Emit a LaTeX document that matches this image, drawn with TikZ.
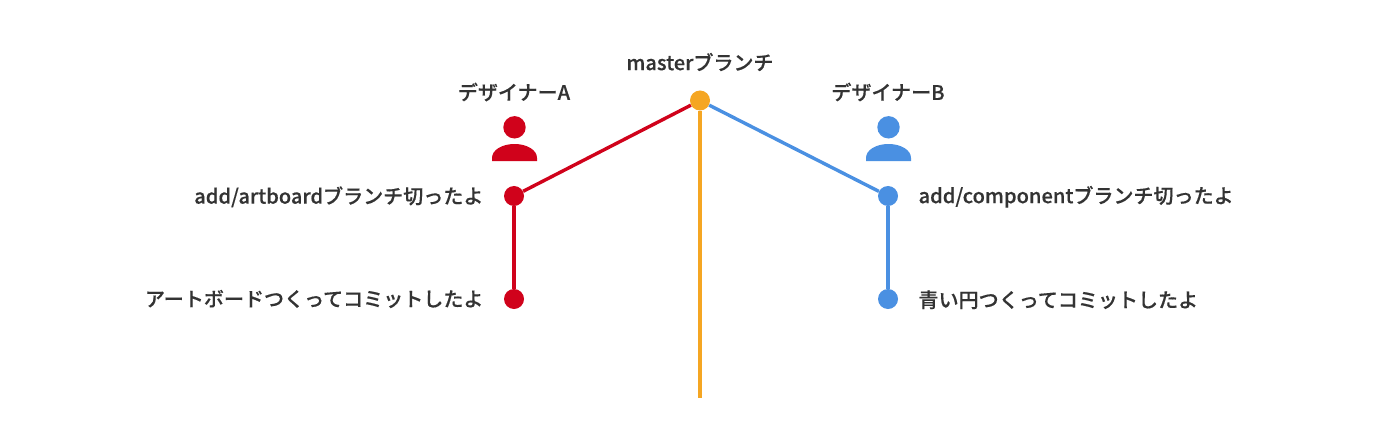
\documentclass[tikz,border=0pt]{standalone}
\usepackage{fontspec}
\setmainfont[BoldFont={Noto Sans CJK JP Medium}, BoldFeatures={FakeBold=0.35}]{Noto Sans CJK JP}
\usetikzlibrary{positioning, calc}
\definecolor{masterline}{RGB}{245,166,35}
\definecolor{redline}{RGB}{208,2,27}
\definecolor{blueline}{RGB}{74,144,226}
\definecolor{labeltext}{RGB}{51,51,51}
\newcommand{\latin}[1]{{\fontsize{14.3}{16}\selectfont #1}}
\tikzset{
    commit/.style={circle, minimum size=0.5cm, inner sep=0pt, fill=#1},
    branch/.style={draw=#1, line width=0.085cm},
    label/.style={inner sep=0pt, text=labeltext, font=\fontsize{14.25}{16}\selectfont\bfseries},
    head/.style={circle, minimum size=0.56cm, inner sep=0pt, fill=#1},
    body/.style={fill=#1}
}
\begin{document}
\begin{tikzpicture}[x=0.025cm, y=-0.025cm]
\useasboundingbox (0,0) rectangle (1400,440);

% Commits
\node[commit=masterline] (master) at (700,100.5) {};
\coordinate (masterend) at (700,398);
\node[commit=redline] (redcut) at (514,196) {};
\node[commit=redline] (redcommit) at (514,299) {};
\node[commit=blueline] (bluecut) at (888,196) {};
\node[commit=blueline] (bluecommit) at (888,299) {};

% Branches
\draw[branch=masterline] (master) -- (masterend);
\draw[branch=redline] (master) -- (redcut);
\draw[branch=redline] (redcut) -- (redcommit);
\draw[branch=blueline] (master) -- (bluecut);
\draw[branch=blueline] (bluecut) -- (bluecommit);

% Designers
\node[head=redline] (redhead) at (514.5,127.3) {};
\fill[body=redline] (492,161) -- (492,158) .. controls (492,150) and (502,144) .. (514.5,144) .. controls (527,144) and (537,150) .. (537,158) -- (537,161) -- cycle;
\node[head=blueline] (bluehead) at (888.5,127.3) {};
\fill[body=blueline] (866,161) -- (866,158) .. controls (866,150) and (876,144) .. (888.5,144) .. controls (901,144) and (911,150) .. (911,158) -- (911,161) -- cycle;

% Labels
\node[label] (masterlabel) at (700,62) {\latin{master}ブランチ};
\node[label] (redname) at (514,92) {デザイナー\latin{A}};
\node[label] (bluename) at (888,92) {デザイナー\latin{B}};
\node[label, left=0.5cm of redcut, yshift=-0.02cm] (redcutlabel) {\latin{add/artboard}ブランチ切ったよ};
\node[label, left=0.5cm of redcommit] (redcommitlabel) {アートボードつくってコミットしたよ};
\node[label, right=0.5cm of bluecut, yshift=-0.02cm] (bluecutlabel) {\latin{add/component}ブランチ切ったよ};
\node[label, right=0.5cm of bluecommit, yshift=-0.02cm] (bluecommitlabel) {青い円つくってコミットしたよ};

\end{tikzpicture}
\end{document}
